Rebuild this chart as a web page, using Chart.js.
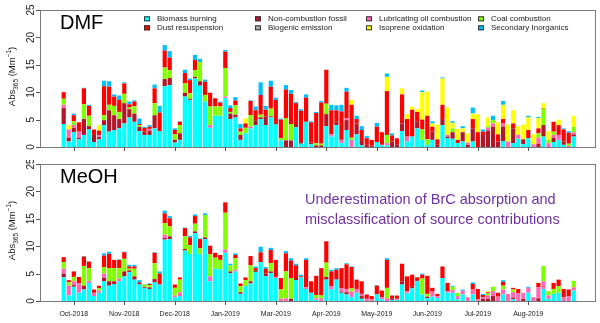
<!DOCTYPE html>
<html>
<head>
<meta charset="utf-8">
<script src="https://cdn.jsdelivr.net/npm/chart.js@4/dist/chart.umd.min.js"></script>
<style>
body { margin: 0; background: #fff; }
canvas { display: block; }
</style>
</head>
<body>
<canvas id="dmfChart" width="600" height="160"></canvas>
<canvas id="meohChart" width="600" height="163"></canvas>
<script>
// js for the source apportionment figure (DMF vs MeOH extracts)
// sources, bottom of each bar first
var sources = ["Biomass burning", "Non-combustion fossil", "Lubricating oil combustion", "Biogenic emission",
               "Coal combustion", "Dust resuspension", "Isoprene oxidation", "Secondary Inorganics"];
var colors = ["#00ffff", "#b0182a", "#ff69b4", "#a8a8a8", "#80ff00", "#ff0000", "#ffff00", "#00bfff"];
// legend rows as printed in the figure
var legendRow1 = [0, 1, 2, 4];
var legendRow2 = [5, 3, 6, 7];

// x axis: samples in order, month ticks at these sample numbers
var tickIndex = [2, 12, 22, 32, 42, 52, 62, 72, 82, 92];
var tickLabels = ["Oct-2018", "Nov-2018", "Dec-2018", "Jan-2019", "Mar-2019", "Apr-2019", "May-2019", "Jun-2019", "Jul-2019", "Aug-2019"];
var yTicks = [0, 5, 10, 15, 20, 25];

// Abs365 (Mm-1), DMF extracts
var dmfBiomass = [4.2, 1.0, 2.7, 1.4, 2.2, 3.2, 0.9, 1.4, 4.0, 2.8,
  3.1, 3.4, 4.3, 5.4, 4.6, 2.9, 2.2, 2.2, 3.4, 2.9,
  11.1, 11.3, 0.8, 1.3, 9.2, 8.6, 12.5, 11.2, 8.3, 3.5,
  5.7, 5.7, 8.9, 5.1, 5.4, 1.3, 2.5, 3.4, 4.0, 5.1,
  4.0, 5.4, 4.1, 1.2, 0, 0, 3.6, 0.6, 4.6, 0.5,
  0, 0, 3.8, 1.9, 4.0, 0.7, 3.1, 0, 2.3, 0.3,
  0, 0, 0.9, 0.3, 0.3, 0, 0, 2.9, 1.0, 1.9,
  3.4, 1.3, 0.4, 1.3, 0, 4.0, 1.6, 1.5, 0.7, 1.0,
  0, 1.0, 0, 0, 0, 0, 0, 1.1, 0, 0.7,
  1.5, 0.5, 1.6, 0, 0, 1.9, 0, 0.9, 1.3, 0.4,
  0, 1.9];
var dmfFossil = [2.9, 0.7, 0.8, 0.3, 2.9, 0.6, 1.3, 0.4, 0.9, 3.9,
  2.7, 1.7, 3.7, 1.5, 1.5, 0.8, 0.6, 0.8, 2.4, 0,
  1.3, 1.3, 0.5, 1.2, 0.7, 0.2, 0.3, 0.8, 0, 0,
  0, 0, 0, 1.0, 0.5, 0.9, 0, 0, 0.9, 0.3,
  1.6, 0.2, 0.3, 0, 1.2, 1.2, 0.6, 0.3, 0, 0.3,
  0.3, 0.3, 2.2, 0, 0.6, 0, 1.8, 0, 2.0, 0.8,
  0.4, 0.3, 0, 0, 0, 1.0, 0.4, 1.4, 0, 0,
  1.2, 0, 0, 1.5, 0.4, 1.1, 0.3, 1.2, 0, 1.7,
  0.4, 2.4, 0, 2.2, 3.0, 3.7, 1.0, 2.6, 0, 2.7,
  0, 0.9, 0, 0, 0.6, 2.1, 0, 0.8, 0, 0.6,
  0, 0.4];
var dmfLube = [0.6, 1.5, 0.5, 1.1, 0, 0, 0, 0.4, 0, 0,
  0, 0, 0, 0, 0, 0, 0, 0.3, 0, 0,
  0, 0, 0, 0, 0, 0, 0, 0, 0, 0.5,
  0, 0, 0.3, 0, 0, 0, 0, 0.3, 0, 0,
  0, 0, 0, 0, 0, 0, 0, 0, 0, 0,
  0, 0, 0, 0.4, 0, 0.6, 0.3, 1.3, 0, 0,
  0, 0, 0, 0.1, 0.4, 0, 0, 0, 0.9, 0,
  0, 0, 0, 0, 0, 0, 0.3, 0, 0, 0,
  0.4, 0, 0, 0, 0.5, 0.6, 0, 0.6, 1.0, 0,
  0.7, 0, 0, 0.5, 1.1, 0, 0.7, 0.5, 0.9, 0,
  0.2, 0.4];
var dmfBiogenic = [0, 0, 0, 0, 0, 0, 0, 0, 0, 0,
  0, 0, 0, 0, 0, 0, 0, 0, 0, 0,
  0, 0, 0, 0, 0, 0, 0, 0, 0, 0,
  0, 0, 0, 0, 0, 0, 0, 0, 0, 0,
  0, 0, 0, 0, 0, 0, 0, 0, 0, 0,
  0, 0, 0, 0, 0, 0, 0, 0, 0, 0,
  0, 0, 0, 0, 0, 0, 0, 0, 0, 0,
  0, 0, 0, 0, 0, 0, 0, 0, 0, 0,
  0, 0, 0, 0, 0, 0, 0, 0, 0, 0,
  0, 0, 0, 0, 0, 0, 0, 0, 0, 0,
  0, 0];
var dmfCoal = [1.1, 0, 0.7, 0, 2.7, 1.9, 0, 0, 0.9, 1.0,
  1.7, 1.3, 1.7, 0.3, 1.3, 0.3, 0, 0, 2.2, 0,
  2.1, 1.4, 1.0, 1.5, 1.7, 1.0, 1.2, 3.5, 1.2, 3.4,
  1.7, 1.7, 5.2, 0.3, 1.7, 0.6, 1.0, 2.1, 0, 0.5,
  0, 1.4, 0, 0.4, 4.0, 3.0, 0, 0, 0, 0,
  0.4, 0.3, 1.9, 0, 0, 0, 0, 0.4, 0, 0,
  0, 0, 0, 0, 1.5, 0, 0, 0, 0, 0,
  0, 1.9, 1.0, 0, 0, 0, 0, 0.7, 0, 0,
  0, 0, 0, 0, 0.3, 0.6, 0, 0, 0, 0,
  0, 0, 0, 0, 0.8, 3.0, 0.6, 0.6, 0, 0,
  0.4, 1.0];
var dmfDust = [1.2, 0, 1.1, 1.7, 2.9, 1.8, 1.0, 0.8, 5.3, 3.3,
  1.7, 2.2, 1.9, 0.6, 0.9, 0.2, 0.7, 0.4, 2.7, 3.4,
  3.1, 2.3, 0.8, 0.6, 1.9, 2.4, 1.9, 0, 2.4, 2.5,
  1.5, 0.7, 3.0, 0.7, 0.9, 0.6, 0.8, 2.6, 1.8, 3.6,
  1.2, 4.0, 4.2, 3.4, 5.3, 5.5, 3.8, 5.7, 4.4, 3.7,
  5.5, 7.5, 6.2, 4.4, 2.1, 5.2, 4.9, 6.0, 0.8, 2.0,
  1.2, 1.0, 2.8, 2.3, 8.0, 1.1, 1.2, 5.3, 3.2, 4.9,
  1.8, 1.8, 4.3, 0.9, 1.0, 2.6, 0, 0, 0.6, 0,
  0, 1.7, 2.7, 0.6, 0, 0, 1.3, 0.8, 0, 0.9,
  0, 0, 1.5, 0, 0.9, 0.1, 0, 1.8, 1.8, 2.2,
  2.0, 0];
var dmfIsoprene = [0, 0.8, 0, 0, 0, 0, 0, 1.0, 0, 0,
  0, 0, 0, 0, 0, 0, 0, 0, 0, 0,
  0, 0, 0, 0, 0, 0, 0, 0, 0, 0,
  0, 0, 0, 0, 0, 0, 0.9, 0, 0, 0,
  0, 0, 0, 0, 0, 0, 0, 0, 0, 0,
  0, 0, 0, 0, 0, 0, 0, 0.9, 0, 0,
  0, 0, 0, 0, 2.6, 0, 0, 1.1, 0.9, 0.6,
  0.5, 5.0, 4.4, 0.6, 2.7, 4.8, 5.0, 1.0, 2.0, 0.7,
  1.7, 1.0, 3.3, 0, 1.6, 0, 2.2, 2.6, 3.1, 2.4,
  1.6, 2.7, 2.3, 1.8, 1.9, 0.9, 1.6, 0, 1.0, 0,
  0, 2.0];
var dmfSecondary = [0, 0, 0.3, 0, 0.1, 0.2, 0, 0, 1.0, 1.0,
  0.4, 0.8, 0.2, 0.5, 0.2, 1.0, 0.2, 0.3, 0.7, 1.2,
  1.0, 1.2, 0.3, 0.1, 0.6, 0.3, 0.9, 0.6, 0.4, 0,
  0, 0.2, 0.3, 0.5, 0.6, 0.8, 0, 0.1, 0.7, 2.3,
  0.7, 1.1, 0.4, 0.2, 0.8, 0.7, 0.2, 0.3, 0.6, 0.2,
  0.2, 0.3, 0, 1.0, 0.9, 1.2, 0.7, 0, 0.6, 0.7,
  0.4, 0, 0.7, 0, 0.6, 0.4, 0, 0, 0, 0,
  0, 0.3, 0, 0.4, 0, 0.2, 0, 0.3, 0, 0.4,
  0, 1.1, 0, 0.4, 0, 0.8, 0, 0.7, 0, 0,
  0, 0, 0.3, 0, 0.2, 0, 0, 0, 0, 0.2,
  0.3, 0];

// Abs365 (Mm-1), MeOH extracts
var meohBiomass = [4.3, 1.0, 2.6, 1.5, 2.1, 3.3, 0.9, 1.5, 3.6, 2.8,
  3.1, 3.6, 4.5, 5.3, 3.9, 3.0, 2.4, 2.2, 3.4, 3.0,
  11.2, 11.3, 0.7, 0.9, 9.2, 8.6, 12.4, 8.6, 11.3, 3.6,
  5.9, 5.8, 8.8, 5.1, 5.4, 1.3, 2.7, 3.2, 5.3, 7.1,
  4.5, 5.1, 4.2, 0, 0, 0, 3.8, 4.3, 2.2, 1.5,
  0.2, 0, 3.9, 2.1, 3.9, 1.5, 1.2, 0.7, 1.5, 0.4,
  0, 0, 1.2, 0.3, 0, 0.2, 0.2, 3.0, 1.4, 2.3,
  3.6, 1.2, 0.5, 0.8, 0.5, 4.2, 1.5, 1.5, 0.3, 1.2,
  0, 1.2, 0, 0, 0, 0, 0, 1.2, 0, 0.3,
  0, 0, 1.5, 0, 0, 2.2, 0.4, 1.3, 1.5, 0,
  0, 1.9];
var meohFossil = [0.7, 0, 0.3, 0, 0.7, 0, 0, 0, 0.6, 0.8,
  0.5, 0, 0.9, 0.3, 0.6, 0.4, 0.2, 0.3, 0.6, 0,
  0.3, 0.5, 0, 0, 0.3, 0, 0.3, 0, 0.3, 0,
  0, 0, 0, 0.3, 0, 0.3, 0, 0.4, 0.3, 0,
  0.5, 0.3, 0, 0, 0, 0.4, 0.4, 0, 0, 0,
  0, 0, 0.5, 0, 0.3, 0.2, 0.4, 0, 0, 0.5,
  0, 0, 0, 0, 0, 0.2, 0, 0.6, 0, 0.4,
  0.2, 0, 0.3, 0, 0, 0, 0, 0, 0, 0,
  0, 0, 0, 0.4, 0.4, 0.9, 0, 0, 0, 0.3,
  0, 0.4, 0, 0, 0.5, 0, 0, 0, 0, 0,
  0, 0];
var meohLube = [0.9, 1.8, 0.7, 1.7, 0, 0.4, 0.6, 0.4, 0.8, 0,
  0, 0.5, 0, 0, 0, 0, 0, 0, 0, 0,
  0.6, 0, 0.3, 0.7, 0, 0, 0, 0, 0, 0.9,
  0, 0, 0.6, 0, 0.3, 0, 0, 0, 0, 0,
  0, 0, 0.2, 0.4, 0.5, 0, 0, 0, 0.3, 0,
  0.3, 0.5, 0, 0.6, 0, 0.6, 0.6, 1.0, 0.7, 0.4,
  0.4, 0.3, 0, 0.4, 0.5, 0, 0.2, 0, 0.4, 0,
  0, 0, 0, 0.9, 0.4, 0, 0.3, 0.5, 0.6, 0.7,
  0.7, 0.9, 0.3, 0.3, 0.6, 0.9, 0.8, 0.9, 1.3, 1.0,
  1.4, 1.1, 0.9, 0.7, 2.0, 1.4, 0.6, 0, 0, 0.7,
  0.9, 0.6];
var meohBiogenic = [0, 0, 0, 0, 0, 0, 0, 0, 0, 0,
  0, 0, 0, 0, 0, 0, 0, 0, 0, 0,
  0, 0, 0, 0, 0, 0, 0, 0, 0, 0,
  0, 0, 0, 0, 0, 0, 0, 0, 0, 0,
  0, 0, 0, 0, 0, 0, 0, 0, 0, 0,
  0, 0, 0, 0, 0, 0, 0, 0, 0, 0,
  0, 0, 0, 0, 0, 0, 0, 0, 0, 0,
  0, 0, 0, 0, 0, 0, 0, 0, 0, 0,
  0, 0, 0, 0, 0, 0, 0, 0, 0, 0,
  0, 0, 0, 0, 0, 0, 0, 0, 0, 0,
  0, 0];
var meohCoal = [1.2, 0.6, 0.8, 0, 3.6, 2.3, 0, 0.4, 1.2, 2.4,
  2.4, 1.9, 2.3, 0.3, 1.4, 0, 0.4, 0.4, 2.9, 0,
  2.1, 1.8, 1.4, 2.3, 2.3, 1.6, 1.4, 1.0, 4.1, 4.0,
  2.0, 1.7, 6.7, 1.1, 2.1, 1.1, 1.1, 2.9, 0, 0,
  0, 1.5, 0, 1.7, 4.9, 3.8, 0, 0, 0, 0,
  0.6, 0.5, 2.6, 0, 0, 0, 0, 0.6, 0, 0,
  0, 0, 0, 0, 1.9, 0, 0, 0, 0, 0,
  0, 2.9, 0.5, 0, 0, 0, 0, 0.6, 0.6, 0,
  0, 0, 0, 0, 0.4, 0.8, 0, 0.7, 0, 0.5,
  0, 0, 0, 0, 0, 2.8, 0.8, 0.9, 1.2, 0,
  0, 1.2];
var meohDust = [0.9, 0.4, 1.0, 1.2, 1.7, 1.2, 0.6, 0.5, 2.1, 2.6,
  1.5, 1.5, 1.2, 0.4, 0.4, 0, 0, 0.2, 1.9, 2.0,
  1.8, 1.5, 0.6, 0.4, 1.5, 1.4, 1.4, 1.7, 0, 1.6,
  0.9, 0.9, 1.9, 0, 0.6, 0.5, 0.5, 1.7, 0.4, 1.8,
  0.9, 2.4, 3.1, 2.1, 3.3, 3.2, 2.3, 0.2, 5.0, 2.1,
  3.5, 5.0, 3.9, 2.7, 1.5, 3.7, 4.5, 3.9, 1.7, 2.3,
  0.8, 0.6, 1.6, 1.2, 5.1, 0.6, 0.6, 3.2, 2.7, 2.1,
  0.5, 0.7, 3.3, 0.7, 0.4, 2.1, 1.5, 0, 0, 0,
  0, 1.0, 1.9, 0.4, 0.2, 0, 0.7, 0.7, 0, 0.3,
  0.8, 0, 0, 0, 0.8, 0, 0, 1.1, 1.2, 1.5,
  1.2, 0];
var meohIsoprene = [0, 0, 0, 0, 0, 0, 0, 0, 0, 0,
  0, 0, 0, 0, 0, 0, 0, 0, 0, 0,
  0, 0, 0, 0, 0, 0, 0, 0, 0, 0,
  0, 0, 0, 0, 0, 0, 0, 0, 0, 0,
  0, 0, 0, 0, 0, 0, 0, 0, 0, 0,
  0, 0, 0, 0, 0, 0, 0, 0, 0, 0,
  0, 0, 0, 0, 0, 0, 0, 0, 0, 0,
  0, 0, 0, 0, 0, 0, 0, 0, 0, 0,
  0, 0, 0, 0, 0.2, 0, 0, 0, 0, 0,
  0, 0, 0, 0, 0, 0, 0, 0, 0, 0,
  0, 0];
var meohSecondary = [0, 0, 0, 0, 0.1, 0, 0, 0, 0.4, 0.4,
  0, 0.1, 0.1, 0.3, 0.3, 0.4, 0.1, 0.1, 0.1, 0.4,
  0.5, 0.4, 0, 0, 0.1, 0.3, 0.3, 0.1, 0.3, 0,
  0, 0, 0, 0.3, 0.3, 0, 0, 0, 0.3, 1.0,
  0.3, 0.4, 0, 0, 0.4, 0.4, 0.3, 0.3, 0.3, 0,
  0, 0, 0, 0.3, 0.3, 0, 0.2, 0.1, 0, 0,
  0, 0, 0.1, 0, 0.3, 0, 0, 0, 0, 0,
  0.1, 0.2, 0, 0, 0, 0, 0, 0.2, 0, 0.2,
  0, 0.3, 0, 0.2, 0, 0, 0, 0.3, 0, 0,
  0, 0, 0.2, 0, 0, 0, 0, 0, 0, 0,
  0, 0];

var noteLines = ["Underestimation of BrC absorption and", "misclassification of source contributions"];

var FONT = "'Liberation Sans', Arial, Helvetica, sans-serif";
var X_MIN = -4.69, X_MAX = 105.4;

// frame, axes, labels, legend drawn the R way
var panelPlugin = {
  id: 'panel',
  afterDraw: function (chart, args, opts) {
    var ctx = chart.ctx;
    var a = chart.chartArea;
    var xs = chart.scales.x, ys = chart.scales.y;
    ctx.save();

    // box
    ctx.strokeStyle = '#7a7a7a';
    ctx.lineWidth = 1;
    ctx.strokeRect(a.left + 0.5, a.top + 0.5, a.right - a.left - 1, a.bottom - a.top);

    ctx.fillStyle = '#1a1a1a';
    ctx.strokeStyle = '#555';

    // y axis ticks + rotated labels
    ctx.font = '10px ' + FONT;
    ctx.textAlign = 'center';
    ctx.textBaseline = 'alphabetic';
    yTicks.forEach(function (v) {
      var py = Math.round(ys.getPixelForValue(v)) + 0.5;
      ctx.beginPath();
      ctx.moveTo(a.left - 4, py);
      ctx.lineTo(a.left, py);
      ctx.stroke();
      ctx.save();
      ctx.translate(a.left - 6.5, ys.getPixelForValue(v));
      ctx.rotate(-Math.PI / 2);
      ctx.fillText(String(v), 0, 0);
      ctx.restore();
    });

    // y title: Abs365 (Mm-1)
    var parts = [
      { t: 'Abs', s: 9.5, dy: 0 },
      { t: '365', s: 6.5, dy: 2.5 },
      { t: ' (Mm', s: 9.5, dy: 0 },
      { t: '\u22121', s: 6.5, dy: -4 },
      { t: ')', s: 9.5, dy: 0 }
    ];
    var total = 0;
    parts.forEach(function (p) { ctx.font = p.s + 'px ' + FONT; p.w = ctx.measureText(p.t).width; total += p.w; });
    ctx.save();
    ctx.translate(15, (a.top + a.bottom) / 2 - 2);
    ctx.rotate(-Math.PI / 2);
    ctx.textAlign = 'left';
    var cx = -total / 2;
    parts.forEach(function (p) {
      ctx.font = p.s + 'px ' + FONT;
      ctx.fillText(p.t, cx, p.dy);
      cx += p.w;
    });
    ctx.restore();

    // x ticks
    ctx.font = '7px ' + FONT;
    ctx.textAlign = 'center';
    tickIndex.forEach(function (idx, k) {
      var px = Math.round(xs.getPixelForValue(idx)) + 0.5;
      ctx.beginPath();
      ctx.moveTo(px, a.bottom);
      ctx.lineTo(px, a.bottom + 4);
      ctx.stroke();
      if (opts.dates) {
        ctx.fillText(tickLabels[k], xs.getPixelForValue(idx), a.bottom + 15);
      }
    });

    // panel name
    ctx.font = '20px ' + FONT;
    ctx.textAlign = 'left';
    ctx.fillStyle = '#000';
    ctx.fillText(opts.name, 60, a.top + 18.5);

    if (opts.legend) {
      ctx.font = '8px ' + FONT;
      var colX = [157, 268, 379, 491];
      [legendRow1, legendRow2].forEach(function (row, r) {
        var base = 21.3 + r * 9;
        row.forEach(function (k, c) {
          ctx.fillStyle = colors[k];
          ctx.fillRect(colX[c] - 13, base - 5, 6, 5);
          ctx.strokeStyle = '#333';
          ctx.strokeRect(colX[c] - 12.5, base - 4.5, 5, 4);
          ctx.fillStyle = '#1a1a1a';
          ctx.fillText(sources[k], colX[c], base);
        });
      });
    }

    if (opts.note) {
      ctx.font = '14.5px ' + FONT;
      ctx.fillStyle = '#7030a0';
      noteLines.forEach(function (line, i) {
        ctx.fillText(line, 305, a.top + 39.5 + i * 20);
      });
    }
    ctx.restore();
  }
};

function makeChart(id, series, pad, panel) {
  var datasets = series.map(function (vals, k) {
    return {
      label: sources[k],
      data: vals.map(function (v, i) { return { x: i, y: v }; }),
      backgroundColor: colors[k],
      borderWidth: 0,
      barPercentage: 0.83,
      categoryPercentage: 1
    };
  });
  return new Chart(document.getElementById(id), {
    type: 'bar',
    data: { datasets: datasets },
    options: {
      responsive: false,
      animation: false,
      layout: { padding: pad },
      scales: {
        x: {
          type: 'linear', stacked: true, display: false, offset: false, bounds: 'data',
          min: X_MIN, max: X_MAX,
          afterBuildTicks: function (s) { s.min = X_MIN; s.max = X_MAX; }
        },
        y: { stacked: true, display: false, min: 0, max: 25 }
      },
      plugins: {
        legend: { display: false },
        tooltip: { enabled: false },
        panel: panel
      }
    },
    plugins: [panelPlugin]
  });
}

window.onload = function () {
  makeChart('dmfChart',
    [dmfBiomass, dmfFossil, dmfLube, dmfBiogenic, dmfCoal, dmfDust, dmfIsoprene, dmfSecondary],
    { left: 40, right: 4, top: 10, bottom: 13 },
    { name: 'DMF', legend: true, dates: false, note: false });
  makeChart('meohChart',
    [meohBiomass, meohFossil, meohLube, meohBiogenic, meohCoal, meohDust, meohIsoprene, meohSecondary],
    { left: 40, right: 4, top: 4, bottom: 22 },
    { name: 'MeOH', legend: false, dates: true, note: true });
};
</script>
</body>
</html>
